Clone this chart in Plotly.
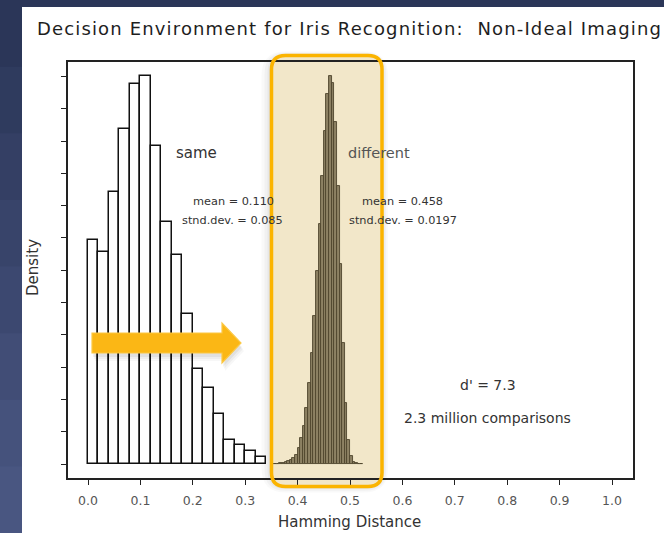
import plotly.graph_objects as go

# ---- data -------------------------------------------------------------
# "same" eye comparisons: histogram bins of width 0.02 starting at 0.0
same_left = [0.00, 0.02, 0.04, 0.06, 0.08, 0.10, 0.12, 0.14, 0.16, 0.18,
             0.20, 0.22, 0.24, 0.26, 0.28, 0.30, 0.32]
same_density = [6.93, 6.56, 8.42, 10.37, 11.76, 12.01, 9.85, 7.49, 6.47, 4.64,
                2.94, 2.35, 1.55, 0.74, 0.59, 0.40, 0.22]
same_width = 0.02

# "different" eye comparisons: histogram bins of width 0.005
diff_left = [0.350, 0.355, 0.360, 0.365, 0.370, 0.375, 0.380, 0.385, 0.390,
             0.395, 0.400, 0.405, 0.410, 0.415, 0.420, 0.425, 0.430, 0.435,
             0.440, 0.445, 0.450, 0.455, 0.460, 0.465, 0.470, 0.475, 0.480,
             0.485, 0.490, 0.495, 0.500, 0.505, 0.510, 0.515, 0.520]
diff_density = [0.01, 0.01, 0.01, 0.02, 0.04, 0.05, 0.09, 0.12, 0.19,
                0.28, 0.50, 0.80, 1.18, 1.73, 2.51, 3.44, 4.58, 5.98,
                7.43, 8.92, 10.32, 11.46, 12.00, 11.80, 10.60, 8.60, 6.18,
                3.74, 1.89, 0.74, 0.25, 0.06, 0.02, 0.01, 0.01]
diff_width = 0.005

x_ticks = [0.0, 0.1, 0.2, 0.3, 0.4, 0.5, 0.6, 0.7, 0.8, 0.9, 1.0]
x_tick_labels = ["0.0", "0.1", "0.2", "0.3", "0.4", "0.5", "0.6", "0.7", "0.8", "0.9", "1.0"]
y_ticks = list(range(0, 13))

# ---- canvas geometry --------------------------------------------------
W, H = 664, 533
PL, PR, PT, PB = 68, 633, 62, 478          # plot frame in pixels
FONT = "DejaVu Sans, Verdana, sans-serif"


def px(x):
    return (x - PL) / (PR - PL)


def py(y):
    return (PB - y) / (PB - PT)


def rounded_path(x0, y0, x1, y1, r):
    """Rounded rectangle (pixel coords) as an SVG path in paper coords."""
    pts = [
        ("M", [(x0 + r, y0)]),
        ("L", [(x1 - r, y0)]), ("Q", [(x1, y0), (x1, y0 + r)]),
        ("L", [(x1, y1 - r)]), ("Q", [(x1, y1), (x1 - r, y1)]),
        ("L", [(x0 + r, y1)]), ("Q", [(x0, y1), (x0, y1 - r)]),
        ("L", [(x0, y0 + r)]), ("Q", [(x0, y0), (x0 + r, y0)]),
    ]
    out = []
    for cmd, coords in pts:
        out.append(cmd + " " + " ".join(f"{px(a):.5f},{py(b):.5f}" for a, b in coords))
    return " ".join(out) + " Z"


def poly_path(points):
    return "M " + " L ".join(f"{px(a):.5f},{py(b):.5f}" for a, b in points) + " Z"


def spaced(text, ls):
    return f'<span style="letter-spacing:{ls}px">{text}</span>' if ls else text


same_x = [l + same_width / 2 for l in same_left]
diff_x = [l + diff_width / 2 for l in diff_left]

fig = go.Figure()
fig.add_trace(go.Bar(
    x=same_x, y=same_density, width=same_width,
    marker=dict(color="white", line=dict(color="#111111", width=1.5)),
    hoverinfo="skip", showlegend=False,
))
fig.add_trace(go.Bar(
    x=diff_x, y=diff_density, width=diff_width,
    marker=dict(color="#8d8163", line=dict(color="#4f452d", width=0.9)),
    hoverinfo="skip", showlegend=False,
))

shapes = []
# slide background: navy strip on the left fading lighter downward
bands = ["#2b3658", "#2f3b5e", "#343f64", "#38446a", "#3c4870", "#414d76", "#45527c", "#495681"]
n = len(bands)
for i, c in enumerate(bands):
    shapes.append(dict(type="rect", xref="paper", yref="paper", layer="below",
                       x0=px(0), x1=px(22), y0=py(H * (i + 1) / n + 1), y1=py(H * i / n),
                       fillcolor=c, line=dict(width=0)))
# white slide panel
shapes.append(dict(type="rect", xref="paper", yref="paper", layer="below",
                   x0=px(22), x1=px(W + 2), y0=py(H + 2), y1=py(7),
                   fillcolor="white", line=dict(width=0)))

# soft shadow round the highlight box
BX0, BY0, BX1, BY1 = 271.5, 55.5, 382, 486.5
for k, a in [(10, 0.025), (7, 0.03), (4, 0.04), (2, 0.05)]:
    shapes.append(dict(type="path", xref="paper", yref="paper", layer="below",
                       path=rounded_path(BX0 - k, BY0 - k * 0.4, BX1 + k * 0.6, BY1 + k * 0.6, 14 + k),
                       fillcolor=f"rgba(0,0,0,{a})", line=dict(width=0)))
# beige highlight fill
shapes.append(dict(type="path", xref="paper", yref="paper", layer="below",
                   path=rounded_path(BX0, BY0, BX1, BY1, 14),
                   fillcolor="#f2e7c9", line=dict(width=0)))
# orange outline of the highlight
shapes.append(dict(type="path", xref="paper", yref="paper", layer="above",
                   path=rounded_path(BX0, BY0, BX1, BY1, 14),
                   fillcolor="rgba(0,0,0,0)", line=dict(color="#fbb400", width=3.5)))

# arrow pointing at the "different" distribution
arrow = [(92, 333), (222, 333), (222, 323), (241, 343), (222, 363), (222, 353), (92, 353)]
for k, a in [(6, 0.03), (4, 0.04), (2, 0.05)]:
    shadow = [(x + k * 0.5, y + k + 2) for x, y in arrow]
    shapes.append(dict(type="path", xref="paper", yref="paper", layer="above",
                       path=poly_path(shadow), fillcolor=f"rgba(0,0,0,{a})", line=dict(width=0)))
shapes.append(dict(type="path", xref="paper", yref="paper", layer="above",
                   path=poly_path(arrow), fillcolor="#fbb715",
                   line=dict(color="#fcc844", width=1.2)))

annotations = []


def note(text, x, y, size, color="#333333", xref="x", yref="y", ls=0,
         xanchor="center", yanchor="middle", **kw):
    annotations.append(dict(text=spaced(text, ls), x=x, y=y, xref=xref, yref=yref, showarrow=False,
                            xanchor=xanchor, yanchor=yanchor,
                            font=dict(family=FONT, size=size, color=color), **kw))


note("Decision Environment for Iris Recognition:  Non-Ideal Imaging", px(35), py(28), 18,
     color="#1e1e1e", xref="paper", yref="paper", xanchor="left", ls=1.15)
note("Hamming Distance", px(349), py(522), 15, xref="paper", yref="paper")
note("Density", px(33), py(268), 15, xref="paper", yref="paper", textangle=-90)

note("same", 0.207, 9.63, 15)
note("different", 0.555, 9.63, 14.5, color="#555555")
note("mean = 0.110", 0.277, 8.14, 11.3)
note("stnd.dev. = 0.085", 0.275, 7.55, 11.3)
note("mean = 0.458", 0.600, 8.14, 11.3)
note("stnd.dev. = 0.0197", 0.601, 7.55, 11.3)
note("d' = 7.3", 0.764, 2.45, 14)
note("2.3 million comparisons", 0.763, 1.42, 14)

x_lo = (PL - 88) / 524
x_hi = (PR - 88) / 524
y_lo = -(PB - 464) / 32.3
y_hi = (464 - PT) / 32.3

fig.update_layout(
    width=W, height=H,
    margin=dict(l=PL, r=W - PR, t=PT, b=H - PB),
    paper_bgcolor="#2b3658", plot_bgcolor="rgba(0,0,0,0)",
    barmode="overlay", bargap=0,
    font=dict(family=FONT, color="#444444"),
    shapes=shapes, annotations=annotations,
    xaxis=dict(range=[x_lo, x_hi], tickvals=x_ticks, ticktext=x_tick_labels,
               ticks="outside", ticklen=5, tickwidth=1.2, tickcolor="#222222",
               ticklabelstandoff=5,
               showline=True, linecolor="#222222", linewidth=1.5, mirror=True,
               showgrid=False, zeroline=False,
               tickfont=dict(family=FONT, size=12.5, color="#555555")),
    yaxis=dict(range=[y_lo, y_hi], tickvals=y_ticks, showticklabels=False,
               ticks="outside", ticklen=5, tickwidth=1.2, tickcolor="#222222",
               showline=True, linecolor="#222222", linewidth=1.5, mirror=True,
               showgrid=False, zeroline=False),
)

fig.write_html("out.html")
